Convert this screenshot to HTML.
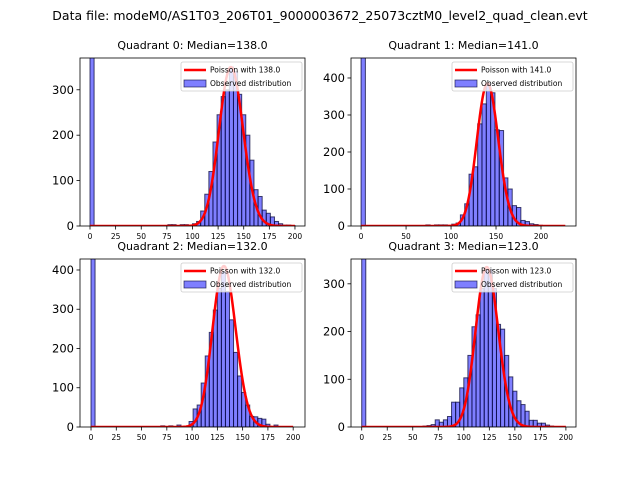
<!DOCTYPE html>
<html><head><meta charset="utf-8"><style>
body{margin:0;background:#fff;}
svg{display:block;font-family:"DejaVu Sans","Liberation Sans",sans-serif;}
</style></head><body>
<svg id="fig" width="640" height="480" viewBox="0 0 640 480">
<text x="320" y="20" font-size="12.5" text-anchor="middle">Data file: modeM0/AS1T03_206T01_9000003672_25073cztM0_level2_quad_clean.evt</text>
</svg>
<script>
// ---- data ----
const quadTitles = ["Quadrant 0: Median=138.0","Quadrant 1: Median=141.0","Quadrant 2: Median=132.0","Quadrant 3: Median=123.0"];
const medians = [138, 141, 132, 123];
const binWidths = [4, 4.8, 4, 4];
const curvePeaks = [350, 385, 410, 335];
const curveMax = [200, 227, 200, 200];
const yTicks0 = [0,100,200,300];
const yTicks1 = [0,100,200,300,400];
const yTicks2 = [0,100,200,300,400];
const yTicks3 = [0,100,200,300];
const xTicks0 = [0,25,50,75,100,125,150,175,200];
const xTicks1 = [0,50,100,150,200];
const xTicks2 = [0,25,50,75,100,125,150,175,200];
const xTicks3 = [0,25,50,75,100,125,150,175,200];
// bin start values and counts
const bins0 = [0,76,80,88,92,100,104,108,112,116,120,124,128,132,136,140,144,148,152,156,160,164,168,172,176,180,184,188,192,196];
const counts0 = [600,3,3,3,3,5,10,33,70,120,185,245,285,300,350,340,290,245,200,145,80,65,35,28,20,10,5,2,2,1];
const bins1 = [0,72,81.6,86.4,91.2,100.8,105.6,110.4,115.2,120,124.8,129.6,134.4,139.2,144,148.8,153.6,158.4,163.2,168,172.8,177.6,182.4,187.2,192,196.8,201.6,206.4,211.2,216,220.8];
const counts1 = [700,3,3,3,3,5,8,30,60,140,160,276,330,385,360,260,258,130,100,55,50,15,12,6,4,2,1,1,1,1,1];
const bins2 = [0,69,77,85,97,101,105,109,113,117,121,125,129,133,137,141,145,149,153,157,161,165,169,173,181];
const counts2 = [700,3,3,5,14,46,56,112,181,241,298,353,396,345,273,190,130,88,56,27,26,22,20,7,5];
const bins3 = [0,60,64,68,72,76,80,84,88,92,96,100,104,108,112,116,120,124,128,132,136,140,144,148,152,156,160,164,168,172,176,180,184];
const counts3 = [600,2,3,5,15,10,15,22,52,52,82,103,150,210,235,290,330,330,290,215,205,150,105,75,55,47,33,14,14,8,8,4,2];

const panels = [
 {L:80,R:305,T:58,B:226,x0:-9.76,x1:209.8,ymax:370,bins:bins0,counts:counts0,yt:yTicks0,xt:xTicks0},
 {L:351,R:576,T:58,B:226,x0:-11.2,x1:238.9,ymax:454,bins:bins1,counts:counts1,yt:yTicks1,xt:xTicks1},
 {L:80,R:305,T:259,B:427,x0:-10.9,x1:211.7,ymax:428,bins:bins2,counts:counts2,yt:yTicks2,xt:xTicks2},
 {L:351,R:576,T:259,B:427,x0:-10.5,x1:209.9,ymax:352,bins:bins3,counts:counts3,yt:yTicks3,xt:xTicks3}
];
const NS="http://www.w3.org/2000/svg";
const svg=document.getElementById('fig');
function mk(tag,attrs,parent){const e=document.createElementNS(NS,tag);for(const k in attrs)e.setAttribute(k,attrs[k]);(parent||svg).appendChild(e);return e;}
function logPmf(k,l){let lg=0;for(let i=2;i<=k;i++)lg+=Math.log(i);return k*Math.log(l)-l-lg;}
panels.forEach((p,q)=>{
  const g=mk('g',{});
  
  
  const sx=v=>p.L+(v-p.x0)/(p.x1-p.x0)*(p.R-p.L);
  const sy=v=>p.B-v/p.ymax*(p.B-p.T);
  const clip=mk('clipPath',{id:'c'+q},g);
  mk('rect',{x:p.L,y:p.T,width:p.R-p.L,height:p.B-p.T},clip);
  const bg=mk('g',{'clip-path':'url(#c'+q+')'},g);
  p.bins.forEach((b,i)=>{
    const r=mk('rect',{x:sx(b),y:sy(p.counts[i]),width:sx(b+binWidths[q])-sx(b),height:sy(0)-sy(p.counts[i]),fill:'rgba(0,0,255,0.5)',stroke:'rgba(10,10,60,0.75)','stroke-width':1},bg);
    
    
  });
  const lam=medians[q],pk=logPmf(Math.round(lam),lam);
  let d='';
  for(let k=0;k<=curveMax[q];k++){const v=curvePeaks[q]*Math.exp(logPmf(k,lam)-pk);d+=(k?'L':'M')+sx(k).toFixed(2)+' '+sy(v).toFixed(2);}
  const c=mk('path',{d:d,fill:'none',stroke:'#ff0000','stroke-width':2.5,'stroke-linejoin':'round'},bg);
  
  
  const fr=mk('rect',{x:p.L,y:p.T,width:p.R-p.L,height:p.B-p.T,fill:'none',stroke:'#000','stroke-width':0.8},g);
  
  
  p.yt.forEach(v=>{
    mk('line',{x1:p.L-3.5,x2:p.L,y1:sy(v),y2:sy(v),stroke:'#000','stroke-width':0.8},g);
    const t=mk('text',{x:p.L-6,y:sy(v)+4,'font-size':11.5,'text-anchor':'end'},g);t.textContent=v;
    
    
  });
  p.xt.forEach(v=>{
    mk('line',{x1:sx(v),x2:sx(v),y1:p.B,y2:p.B+3.5,stroke:'#000','stroke-width':0.8},g);
    const t=mk('text',{x:sx(v),y:p.B+13,'font-size':7.5,'text-anchor':'middle'},g);t.textContent=v;
    
    
  });
  const tt=mk('text',{x:(p.L+p.R)/2,y:p.T-9,'font-size':11,'text-anchor':'middle'},g);tt.textContent=quadTitles[q];
  
  
  const lg=mk('g',{},g);
  
  
  const lx=p.R-124,ly=p.T+4;
  mk('rect',{x:lx,y:ly,width:121,height:29,rx:2,fill:'rgba(255,255,255,0.8)',stroke:'#ccc','stroke-width':0.8},lg);
  mk('line',{x1:lx+3,x2:lx+25,y1:ly+8,y2:ly+8,stroke:'#ff0000','stroke-width':2.5},lg);
  mk('rect',{x:lx+3,y:ly+18,width:22,height:7,fill:'rgba(0,0,255,0.5)',stroke:'rgba(10,10,60,0.75)','stroke-width':0.8},lg);
  const l1=mk('text',{x:lx+29,y:ly+10.5,'font-size':7.5},lg);l1.textContent='Poisson with '+medians[q].toFixed(1);
  
  
  const l2=mk('text',{x:lx+29,y:ly+24,'font-size':7.5},lg);l2.textContent='Observed distribution';
  
  
});
</script>
</body></html>
